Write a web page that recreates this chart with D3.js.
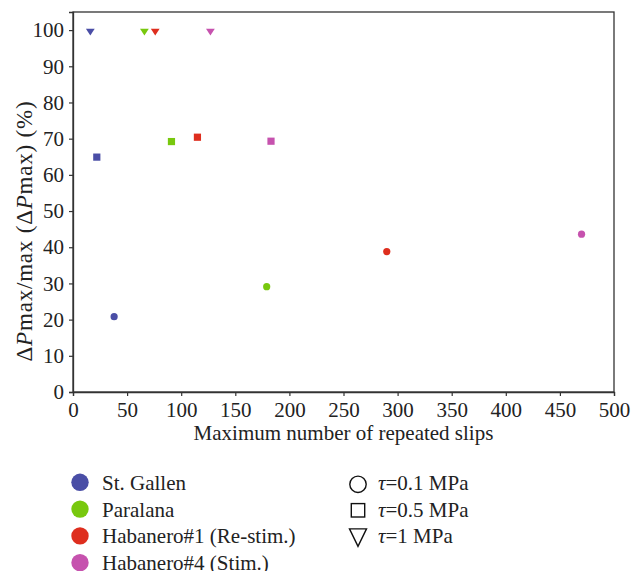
<!DOCTYPE html>
<html>
<head>
<meta charset="utf-8">
<script src="https://cdn.jsdelivr.net/npm/d3@7"></script>
<style>
  body { margin: 0; background: #fff; }
  svg text { font-family: 'Liberation Serif', Tinos, serif; }
</style>
</head>
<body>
<svg id="chart" width="631" height="571" font-family="Liberation Serif"></svg>
<script>
// sites and their colours
var sites = ["St. Gallen", "Paralana", "Habanero#1 (Re-stim.)", "Habanero#4 (Stim.)"];
var siteColors = ["#4a4ea6", "#78c80e", "#de2e1e", "#c652ae"];

// max number of repeated slips per site, for tau = 0.1, 0.5, 1 MPa
var slips01 = [38, 179, 290, 470];
var slips05 = [22, 91, 115, 183];
var slips1  = [16, 66, 76, 127];

// dPmax / max(dPmax) in %
var pct01 = [20.8, 29.1, 38.8, 43.6];
var pct05 = [64.9, 69.2, 70.4, 69.3];
var pct1  = [99.5, 99.5, 99.5, 99.5];

var tauLabels = ["\u03c4=0.1 MPa", "\u03c4=0.5 MPa", "\u03c4=1 MPa"];
var xTicks = d3.range(0, 501, 50);
var yTicks = d3.range(0, 101, 10);

var fontSize = "21px";
var margin = { top: 12, left: 73, right: 17, bottom: 179 };
var width = 631 - margin.left - margin.right;
var height = 571 - margin.top - margin.bottom;

var svg = d3.select("#chart");
var g = svg.append("g").attr("transform", "translate(" + margin.left + "," + margin.top + ")");

var x = d3.scaleLinear().domain([0, 500]).range([0, width]);
var y = d3.scaleLinear().domain([0, 105]).range([height, 0]);

// frame
g.append("rect")
  .attr("width", width).attr("height", height)
  .attr("fill", "none").attr("stroke", "#333").attr("stroke-width", 1.3);

var xAxis = g.append("g")
  .attr("transform", "translate(0," + height + ")")
  .call(d3.axisBottom(x).tickValues(xTicks).tickSize(4).tickPadding(6));
var yAxis = g.append("g")
  .call(d3.axisLeft(y).tickValues(yTicks).tickSize(4).tickPadding(5));

[xAxis, yAxis].forEach(function(a) {
  a.attr("font-family", "Liberation Serif").attr("font-size", fontSize);
  a.select(".domain").attr("stroke", "#333").attr("stroke-width", 1.3);
  a.selectAll(".tick line").attr("stroke", "#333").attr("stroke-width", 1.2);
  a.selectAll(".tick text").attr("fill", "#222");
});

// axis labels
svg.append("text")
  .attr("x", margin.left + width / 2).attr("y", 440)
  .attr("text-anchor", "middle")
  .attr("font-size", fontSize).attr("fill", "#222")
  .text("Maximum number of repeated slips");

var yl = svg.append("text")
  .attr("transform", "translate(32,231) rotate(-90)")
  .attr("text-anchor", "middle")
  .attr("letter-spacing", "0.8px")
  .attr("font-size", "23px").attr("fill", "#222");
yl.append("tspan").text("\u0394");
yl.append("tspan").attr("font-style", "italic").text("P");
yl.append("tspan").text("max/max (\u0394");
yl.append("tspan").attr("font-style", "italic").text("P");
yl.append("tspan").text("max) (%)");

// markers
var circleData = sites.map(function(s, i) { return { c: siteColors[i], x: slips01[i], y: pct01[i] }; });
var squareData = sites.map(function(s, i) { return { c: siteColors[i], x: slips05[i], y: pct05[i] }; });
var triData = sites.map(function(s, i) { return { c: siteColors[i], x: slips1[i], y: pct1[i] }; });

g.selectAll(".c01").data(circleData).enter().append("circle")
  .attr("cx", function(d) { return x(d.x); })
  .attr("cy", function(d) { return y(d.y); })
  .attr("r", 3.6)
  .attr("fill", function(d) { return d.c; });

g.selectAll(".s05").data(squareData).enter().append("rect")
  .attr("x", function(d) { return x(d.x) - 3.6; })
  .attr("y", function(d) { return y(d.y) - 3.6; })
  .attr("width", 7.2).attr("height", 7.2)
  .attr("fill", function(d) { return d.c; });

g.selectAll(".t1").data(triData).enter().append("path")
  .attr("transform", function(d) { return "translate(" + x(d.x) + "," + y(d.y) + ")"; })
  .attr("d", "M-4.4,-3.1L4.4,-3.1L0,3.6Z")
  .attr("fill", function(d) { return d.c; });

// legend: sites
var leg = svg.append("g");
var legRows = sites.map(function(s, i) { return { name: s, c: siteColors[i], i: i }; });
var lg = leg.selectAll(".site").data(legRows).enter().append("g")
  .attr("transform", function(d) { return "translate(80," + (482.3 + d.i * 26.8) + ")"; });
lg.append("circle").attr("r", 8.7).attr("fill", function(d) { return d.c; });
lg.append("text").attr("x", 22).attr("y", 7.5)
  .attr("font-size", fontSize).attr("fill", "#222")
  .text(function(d) { return d.name; });

// legend: shear stress shapes
var shapeRows = tauLabels.map(function(t, i) { return { label: t, i: i }; });
var sg = leg.selectAll(".tau").data(shapeRows).enter().append("g")
  .attr("transform", function(d) { return "translate(358," + (482.3 + d.i * 26.8) + ")"; });
sg.each(function(d) {
  var e = d3.select(this);
  if (d.i === 0) {
    e.append("circle").attr("cy", 2).attr("r", 8.2).attr("fill", "none").attr("stroke", "#111").attr("stroke-width", 1.4);
  } else if (d.i === 1) {
    e.append("rect").attr("x", -6.7).attr("y", -5.5).attr("width", 13.4).attr("height", 13.4)
      .attr("fill", "none").attr("stroke", "#111").attr("stroke-width", 1.4);
  } else {
    e.append("path").attr("d", "M-8.5,-7L8.5,-7L0,10.5Z")
      .attr("fill", "none").attr("stroke", "#111").attr("stroke-width", 1.4);
  }
});
sg.append("text").attr("x", 20).attr("y", 7.5)
  .attr("font-size", fontSize).attr("fill", "#222")
  .each(function(d) {
    var t = d3.select(this);
    t.append("tspan").attr("font-style", "italic").text(d.label.charAt(0));
    t.append("tspan").text(d.label.slice(1));
  });
</script>
</body>
</html>
